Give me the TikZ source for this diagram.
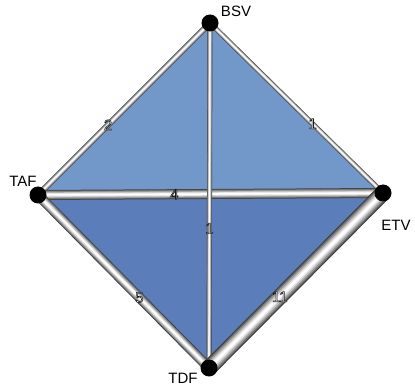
\documentclass[tikz,border=0pt]{standalone}
\usepackage{fontspec}
\setmainfont{Liberation Sans}
\usetikzlibrary{backgrounds}

\definecolor{upperblue}{RGB}{114,152,202}
\definecolor{lowerblue}{RGB}{91,125,185}

% shaded tube between two nodes: from, to, width
\newcommand{\tube}[3]{%
  \foreach \f/\c in {1/black!75, 0.85/black!58, 0.7/black!42, 0.52/black!25, 0.34/black!10, 0.16/white}
    \draw[line width={\f*#3pt}, draw=\c] (#1.center) -- (#2.center);}
% white figures with a dark rim
\newcommand{\rimmed}[1]{\special{pdf:code 2 Tr 0.55 w 0.1 0.1 0.1 RG}#1\special{pdf:code 0 Tr}}

\begin{document}
\begin{tikzpicture}[
  x=1pt, y=-1pt,
  vertex/.style={circle, fill=black, minimum size=17pt, inner sep=0pt},
  vlbl/.style={font=\fontsize{15}{18}\selectfont, inner sep=0pt},
  elbl/.style={font=\fontsize{15}{17}\selectfont, text=white, inner sep=0pt}
]
\useasboundingbox (0,0) rectangle (415,387);

% --- Vertices ---
\node[vertex] (bsv) at (210,23) {};
\node[vertex] (taf) at (38,195) {};
\node[vertex] (etv) at (383,193) {};
\node[vertex] (tdf) at (209,368) {};

\node[vlbl] (bsvl) at (236,11) {BSV};
\node[vlbl] (tafl) at (23,181) {TAF};
\node[vlbl] (etvl) at (396,225) {ETV};
\node[vlbl] (tdfl) at (183,378) {TDF};

% --- Faces and tubes ---
\begin{scope}[on background layer]
  \fill[upperblue] (bsv.center) -- (etv.center) -- (taf.center) -- cycle;
  \fill[lowerblue] (taf.center) -- (etv.center) -- (tdf.center) -- cycle;
  \tube{bsv}{taf}{6}
  \tube{bsv}{etv}{5}
  \tube{etv}{taf}{10}
  \tube{bsv}{tdf}{5}
  \tube{taf}{tdf}{10}
  \tube{etv}{tdf}{16}
\end{scope}

% --- Edge weights ---
\path (bsv) -- (taf) node[elbl, pos=0.6] (w1) {\rimmed{2}};
\path (bsv) -- (etv) node[elbl, pos=0.6] (w2) {\rimmed{1}};
\path (etv) -- (taf) node[elbl, pos=0.61] (w3) {\rimmed{4}};
\path (bsv) -- (tdf) node[elbl, pos=0.6] (w4) {\rimmed{1}};
\path (taf) -- (tdf) node[elbl, pos=0.6] (w5) {\rimmed{5}};
\path (etv) -- (tdf) node[elbl, pos=0.6] (w6) {\rimmed{11}};

\end{tikzpicture}
\end{document}
